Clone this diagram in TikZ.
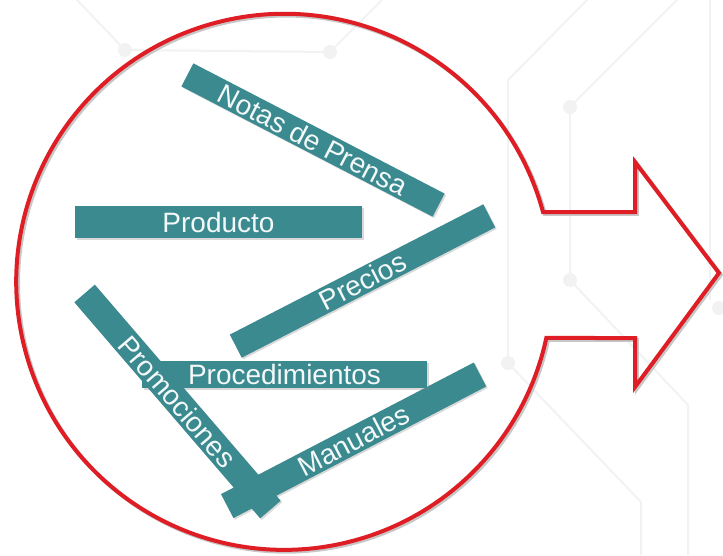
\documentclass[tikz,border=0pt]{standalone}
\usepackage{fontspec}
\setmainfont{Liberation Sans}
\usepackage{tikz}
\usetikzlibrary{shadows}
\definecolor{barteal}{RGB}{58,138,144}
\definecolor{arrowred}{RGB}{222,30,36}
\definecolor{circuitgray}{RGB}{242,242,242}
\tikzset{
    %Define style for the teal bars
    tealbar/.style={
           rectangle,
           fill=barteal,
           text=white!94!barteal,
           minimum width=285pt,
           minimum height=27pt,
           inner sep=0pt,
           font=\fontsize{28}{28}\selectfont,
           drop shadow={shadow xshift=1.5pt, shadow yshift=-1.5pt, opacity=0.3}
           },
    %Define style for the red outline
    redline/.style={
           line width=4pt,
           line join=miter},
    %Define style for the faint background lines
    circuit/.style={
           draw=circuitgray,
           line width=2pt}
}
\begin{document}
\begin{tikzpicture}[x=1pt,y=-1pt]
\useasboundingbox (0,0) rectangle (723,555);
 %background
\draw[circuit] (77,0) -- (125,50) -- (330,52) -- (382,0);
\draw[circuit] (587,0) -- (508,80) -- (508,363) -- (641,502) -- (641,555);
\draw[circuit] (677,0) -- (570,107) -- (570,280) -- (688,405) -- (688,555);
\draw[circuit] (710,0) -- (710,300);
\fill[circuitgray] (125,50) circle (7) (330,52) circle (7) (508,363) circle (7)
    (570,107) circle (7) (570,280) circle (7) (719,308) circle (7);
 %outline
\foreach \d/\c in {1.8/black!22, 0/arrowred}
  \draw[redline, draw=\c, xshift=\d pt, yshift=-\d pt]
    (543,212) arc[start angle=-15.1, end angle=-347.9, radius=268]
    -- (635,338) -- (635,387) -- (719,273) -- (635,162) -- (635,212) -- cycle;
 %nodes
\node[tealbar, minimum width=283pt, minimum height=26pt, rotate=-27.4] (notas) at (313,140) {Notas de Prensa};
\node[tealbar, minimum width=287pt, minimum height=32pt] (producto) at (218.5,222) {Producto};
\node[tealbar, minimum height=26pt, rotate=27.2] (precios) at (362.5,281) {Precios};
\node[tealbar, rotate=27.5] (manuales) at (353.6,440.3) {Manuales};
\node[tealbar] (procedimientos) at (284.5,374.5) {Procedimientos};
\node[tealbar, rotate=-49.3] (promociones) at (177.5,401.5) {Promociones};
\end{tikzpicture}
\end{document}
